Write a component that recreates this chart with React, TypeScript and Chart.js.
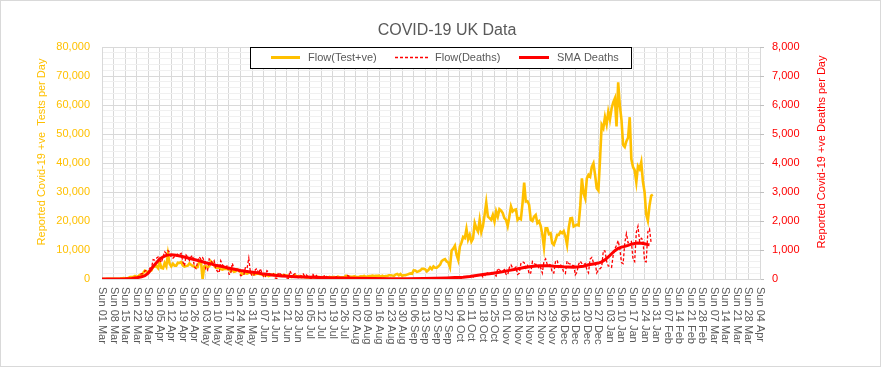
import React, { useEffect, useRef } from "react";
import { Chart, registerables } from "chart.js";

Chart.register(...registerables);

// Day 0 = Sun 01 Mar 2020; one value per day.
const testValues: number[] = [
  // Mar 2020
  13, 4, 11, 34, 29, 48, 45, 69, 43, 62, 77, 130, 208, 342, 251, 152, 407, 676, 643, 714, 1035, 665, 967, 1427, 1452, 2129, 2885, 2546, 2433, 2619, 3009,
  // Apr
  4324, 4244, 4450, 3735, 5903, 3802, 3634, 5491, 4344, 8681, 5233, 4342, 5252, 4603, 4617, 5599, 5525, 5850, 4676, 4301, 4451, 4583, 5386, 4913, 4463, 4309, 3996, 4076, 6032, 6201,
  // May
  0, 4339, 4406, 3985, 4406, 6111, 5614, 4649, 3896, 3923, 3877, 3403, 3242, 3446, 3560, 3450, 3534, 2684, 3142, 2472, 2615, 3287, 2959, 2409, 1625, 2004, 2013, 1887, 2095, 2445, 1936,
  // Jun
  1570, 1653, 1871, 1805, 1650, 1557, 1326, 1205, 1387, 1003, 1266, 1541, 1425, 1514, 1056, 1279, 1115, 1218, 1346, 1295, 1221, 958, 874, 653, 1118, 1380, 890, 901, 1006, 689,
  // Jul
  829, 576, 544, 624, 516, 650, 581, 630, 512, 642, 687, 538, 659, 530, 650, 398, 726, 560, 668, 642, 445, 769, 574, 560, 581, 685, 1148, 880, 846, 763, 744,
  // Aug
  938, 744, 670, 758, 950, 871, 1062, 758, 891, 1012, 1062, 1148, 1040, 1077, 1089, 1182, 713, 1104, 812, 1033, 1041, 1288, 1276, 1184, 1108, 1522, 1715, 1276, 1715, 1108, 1276,
  // Sep
  1295, 1508, 1735, 1940, 1813, 2988, 2948, 2460, 2659, 2919, 3539, 3497, 3330, 2621, 3105, 3991, 3395, 4322, 3899, 3899, 4368, 4926, 6178, 6634, 6874, 6042, 5693, 4044, 9800, 10500,
  // Oct
  11500, 8400, 6600, 11200, 12600, 14500, 14100, 17300, 13600, 15200, 12900, 14000, 19300, 17500, 16400, 20400, 16200, 18300, 22100, 26400, 21500, 21000, 20400, 22100, 19800, 23300, 21500, 24100, 23600, 22700, 21000,
  // Nov
  20400, 18300, 21500, 25000, 23300, 23800, 24000, 20400, 21000, 20600, 26100, 33200, 26700, 26800, 25600, 20400, 20000, 21500, 22100, 19300, 19900, 18300, 15400, 11000, 17500, 17500, 15500, 15800, 12400, 11800,
  // Dec
  13400, 15200, 15200, 16300, 15800, 16500, 14700, 11800, 17500, 20900, 21000, 18100, 18400, 18700, 18500, 25200, 34700, 29600, 27800, 34700, 35900, 35300, 38700, 39900, 35900, 31300, 30500, 41400, 53100, 52000, 55900,
  // Jan 2021
  53300, 57700, 55000, 58800, 60900, 62300, 52600, 67800, 59900, 54900, 46200, 45500, 47500, 48700, 55800, 41300, 38600, 37500, 33400, 38900, 37900, 40300, 33600, 30000, 22200, 20100, 25300, 28700, 29100,
];

const deathValues: number[] = [
  // Mar 2020
  0, 0, 0, 0, 1, 1, 0, 1, 1, 2, 2, 2, 1, 10, 14, 20, 16, 34, 43, 36, 56, 48, 74, 149, 186, 183, 284, 294, 214, 374, 382,
  // Apr
  670, 652, 714, 760, 644, 568, 758, 938, 881, 980, 917, 737, 717, 778, 761, 861, 847, 888, 596, 449, 828, 763, 638, 768, 813, 413, 360, 586, 765, 674,
  // May
  739, 621, 315, 288, 693, 649, 539, 627, 346, 268, 210, 627, 494, 428, 384, 468, 170, 160, 545, 363, 338, 351, 282, 118, 121, 134, 412, 377, 720, 215, 113,
  // Jun
  111, 324, 359, 176, 357, 204, 77, 55, 286, 245, 151, 202, 181, 36, 15, 233, 184, 135, 173, 128, 43, 15, 280, 154, 149, 186, 100, 36, 25, 155,
  // Jul
  176, 89, 137, 67, 22, 16, 155, 85, 126, 48, 68, 21, 11, 138, 85, 66, 63, 40, 11, 11, 79, 65, 53, 38, 47, 12, 4, 119, 83, 38, 40,
  // Aug
  7, 8, 5, 8, 4, 5, 4, 7, 14, 10, 5, 14, 3, 9, 16, 12, 7, 2, 3, 18, 6, 15, 9, 8, 5, 6, 8, 9, 1, 12, 2,
  // Sep
  2, 3, 2, 3, 8, 12, 2, 2, 8, 6, 9, 9, 5, 3, 20, 27, 20, 19, 18, 11, 37, 37, 21, 40, 40, 34, 17, 14, 13, 71,
  // Oct
  59, 66, 49, 33, 19, 76, 70, 77, 87, 81, 65, 50, 143, 137, 138, 136, 150, 67, 80, 241, 191, 189, 224, 174, 151, 102, 367, 310, 280, 274, 326,
  // Nov
  162, 136, 397, 492, 378, 355, 413, 156, 194, 532, 595, 563, 376, 462, 168, 213, 598, 529, 501, 511, 341, 398, 206, 608, 696, 498, 521, 479, 215, 205,
  // Dec
  603, 648, 414, 504, 397, 231, 189, 616, 533, 516, 424, 519, 144, 232, 506, 612, 532, 489, 534, 326, 215, 691, 744, 570, 570, 210, 316, 357, 414, 981, 964,
  // Jan 2021
  613, 445, 454, 407, 830, 1041, 1162, 1325, 1035, 563, 529, 1243, 1564, 1248, 1280, 1295, 671, 599, 1610, 1820, 1290, 1401, 1348, 610, 592, 1631, 1725, 1239,
];

const smaDays: number[] = [
  0, 14, 18, 21, 24, 26, 28, 31, 33, 35, 37, 39, 42, 45, 48, 51, 54, 57, 60, 63, 66, 69, 72, 75, 78, 81, 84, 87, 90, 94, 97, 100, 103, 106, 109, 113, 117, 122, 127, 132, 137, 145, 155, 165, 175, 185, 195, 202, 209, 214, 219, 223, 226, 229, 232, 235, 238, 241, 244, 247, 250, 253, 256, 259, 262, 265, 268, 271, 274, 277, 280, 283, 286, 289, 292, 295, 298, 301, 303, 305, 307, 309, 311, 313, 315, 317, 319, 321, 323, 325, 327, 329, 331, 332,
];
const smaValues: number[] = [
  0, 5, 20, 40, 80, 115, 200, 430, 560, 690, 760, 815, 840, 820, 785, 740, 700, 655, 610, 560, 520, 475, 440, 400, 360, 325, 292, 265, 245, 215, 183, 160, 138, 120, 103, 92, 80, 70, 57, 50, 46, 35, 25, 15, 12, 12, 15, 22, 35, 48, 60, 85, 110, 138, 160, 183, 205, 229, 262, 298, 330, 362, 395, 420, 440, 455, 460, 455, 440, 430, 420, 415, 405, 420, 440, 490, 520, 550, 590, 660, 760, 870, 975, 1060, 1100, 1125, 1160, 1200, 1225, 1240, 1235, 1215, 1185, 1180,
];

const weekLabels: string[] = [
  "Sun 01 Mar", "Sun 08 Mar", "Sun 15 Mar", "Sun 22 Mar", "Sun 29 Mar", "Sun 05 Apr", "Sun 12 Apr", "Sun 19 Apr", "Sun 26 Apr",
  "Sun 03 May", "Sun 10 May", "Sun 17 May", "Sun 24 May", "Sun 31 May", "Sun 07 Jun", "Sun 14 Jun", "Sun 21 Jun", "Sun 28 Jun",
  "Sun 05 Jul", "Sun 12 Jul", "Sun 19 Jul", "Sun 26 Jul", "Sun 02 Aug", "Sun 09 Aug", "Sun 16 Aug", "Sun 23 Aug", "Sun 30 Aug",
  "Sun 06 Sep", "Sun 13 Sep", "Sun 20 Sep", "Sun 27 Sep", "Sun 04 Oct", "Sun 11 Oct", "Sun 18 Oct", "Sun 25 Oct", "Sun 01 Nov",
  "Sun 08 Nov", "Sun 15 Nov", "Sun 22 Nov", "Sun 29 Nov", "Sun 06 Dec", "Sun 13 Dec", "Sun 20 Dec", "Sun 27 Dec", "Sun 03 Jan",
  "Sun 10 Jan", "Sun 17 Jan", "Sun 24 Jan", "Sun 31 Jan", "Sun 07 Feb", "Sun 14 Feb", "Sun 21 Feb", "Sun 28 Feb", "Sun 07 Mar",
  "Sun 14 Mar", "Sun 21 Mar", "Sun 28 Mar", "Sun 04 Apr",
];

const testAxisTicks: number[] = [0, 10000, 20000, 30000, 40000, 50000, 60000, 70000, 80000];
const testAxisLabels: string[] = ["0", "10,000", "20,000", "30,000", "40,000", "50,000", "60,000", "70,000", "80,000"];
const deathAxisTicks: number[] = [0, 1000, 2000, 3000, 4000, 5000, 6000, 7000, 8000];
const deathAxisLabels: string[] = ["0", "1,000", "2,000", "3,000", "4,000", "5,000", "6,000", "7,000", "8,000"];

const chartTitle = "COVID-19 UK Data";
const leftAxisTitle = "Reported Covid-19 +ve  Tests per Day";
const rightAxisTitle = "Reported Covid-19 +ve Deaths per Day";
const seriesNames = ["Flow(Test+ve)", "Flow(Deaths)", "SMA Deaths"];

const FONT = '"Liberation Sans", Arial, sans-serif';
const GOLD = "#FFC000";
const RED = "#FF0000";
const GREY_TEXT = "#595959";

const decorPlugin = {
  id: "excelDecor",
  afterDraw(chart: any) {
    const ctx = chart.ctx as CanvasRenderingContext2D;
    const xs = chart.scales.x;
    const area = chart.chartArea;
    ctx.save();

    // outer chart border
    ctx.strokeStyle = "#d9d9d9";
    ctx.lineWidth = 1;
    ctx.strokeRect(0.5, 0.5, 880, 366);

    // x tick labels, rotated clockwise
    ctx.font = "11px " + FONT;
    ctx.fillStyle = GREY_TEXT;
    ctx.textAlign = "left";
    ctx.textBaseline = "middle";
    weekLabels.forEach((lab, i) => {
      const x = xs.getPixelForValue(i * 7);
      ctx.save();
      ctx.translate(x, area.bottom + 8);
      ctx.rotate(Math.PI / 2);
      ctx.fillText(lab, 0, 0);
      ctx.restore();
    });

    // chart title
    ctx.font = "16px " + FONT;
    ctx.fillStyle = GREY_TEXT;
    ctx.textAlign = "center";
    ctx.textBaseline = "middle";
    ctx.fillText(chartTitle, 447, 31);

    // axis titles
    ctx.font = "11px " + FONT;
    ctx.save();
    ctx.translate(42, 152);
    ctx.rotate(-Math.PI / 2);
    ctx.fillStyle = GOLD;
    ctx.fillText(leftAxisTitle, 0, 0);
    ctx.restore();
    ctx.save();
    ctx.translate(822, 152);
    ctx.rotate(-Math.PI / 2);
    ctx.fillStyle = RED;
    ctx.fillText(rightAxisTitle, 0, 0);
    ctx.restore();

    // legend box
    ctx.fillStyle = "#ffffff";
    ctx.fillRect(250, 47, 381, 21);
    ctx.strokeStyle = "#000000";
    ctx.lineWidth = 1;
    ctx.strokeRect(250.5, 47.5, 381, 21);
    const ly = 57.5;
    const drawSample = (x0: number, x1: number, color: string, width: number, dash: number[]) => {
      ctx.beginPath();
      ctx.setLineDash(dash);
      ctx.strokeStyle = color;
      ctx.lineWidth = width;
      ctx.moveTo(x0, ly);
      ctx.lineTo(x1, ly);
      ctx.stroke();
      ctx.setLineDash([]);
    };
    drawSample(271, 300, GOLD, 3, []);
    drawSample(395, 428, RED, 1.5, [3, 2]);
    drawSample(519, 549, RED, 3, []);
    ctx.fillStyle = GREY_TEXT;
    ctx.textAlign = "left";
    ctx.textBaseline = "middle";
    ctx.font = "11px " + FONT;
    ctx.fillText(seriesNames[0], 308, ly);
    ctx.fillText(seriesNames[1], 435, ly);
    ctx.fillText(seriesNames[2], 557, ly);

    ctx.restore();
  },
};

export default function App() {
  const ref = useRef<HTMLCanvasElement | null>(null);

  useEffect(() => {
    if (!ref.current) return;
    const testData = testValues.map((v, i) => ({ x: i, y: v }));
    const deathData = deathValues.map((v, i) => ({ x: i, y: v }));
    const smaData = smaDays.map((d, i) => ({ x: d, y: smaValues[i] }));

    const chart = new Chart(ref.current, {
      type: "line",
      data: {
        datasets: [
          {
            label: seriesNames[2],
            data: smaData,
            yAxisID: "y1",
            borderColor: RED,
            borderWidth: 3,
            pointRadius: 0,
            tension: 0,
            order: 0,
          },
          {
            label: seriesNames[1],
            data: deathData,
            yAxisID: "y1",
            borderColor: RED,
            borderWidth: 1.3,
            borderDash: [3, 2],
            pointRadius: 0,
            tension: 0,
            order: 1,
          },
          {
            label: seriesNames[0],
            data: testData,
            yAxisID: "y",
            borderColor: GOLD,
            borderWidth: 2.6,
            pointRadius: 0,
            tension: 0,
            order: 2,
          },
        ],
      },
      options: {
        responsive: false,
        animation: false,
        devicePixelRatio: 1,
        parsing: false,
        layout: { padding: { top: 47, left: 0, right: 0, bottom: 0 } },
        plugins: {
          legend: { display: false },
          title: { display: false },
          tooltip: { enabled: false },
        },
        scales: {
          x: {
            type: "linear",
            position: "bottom",
            min: 0,
            max: (weekLabels.length - 1) * 7,
            afterBuildTicks: (s: any) => {
              s.ticks = weekLabels.map((_, i) => ({ value: i * 7 }));
            },
            afterFit: (s: any) => {
              s.height = 90;
            },
            ticks: { display: false },
            grid: { color: "#d9d9d9", lineWidth: 1, drawTicks: false },
            border: { color: "#d9d9d9" },
          },
          y: {
            type: "linear",
            position: "left",
            min: 0,
            max: 80000,
            afterBuildTicks: (s: any) => {
              const t: any[] = [];
              for (let v = 0; v <= 80000; v += 2000) t.push({ value: v });
              s.ticks = t;
            },
            afterFit: (s: any) => {
              s.width = 102;
            },
            ticks: {
              autoSkip: false,
              padding: 12,
              color: GOLD,
              font: { family: FONT, size: 11 },
              callback: (v: any) => {
                const i = testAxisTicks.indexOf(Number(v));
                return i >= 0 ? testAxisLabels[i] : "";
              },
            },
            grid: {
              drawTicks: false,
              color: (c: any) => (c.tick && c.tick.value % 10000 === 0 ? "#d9d9d9" : "#f0f0f0"),
            },
            border: { color: "#d9d9d9" },
          },
          y1: {
            type: "linear",
            position: "right",
            min: 0,
            max: 8000,
            afterBuildTicks: (s: any) => {
              s.ticks = deathAxisTicks.map((v) => ({ value: v }));
            },
            afterFit: (s: any) => {
              s.width = 123;
            },
            ticks: {
              autoSkip: false,
              padding: 8,
              color: RED,
              font: { family: FONT, size: 11 },
              callback: (v: any) => {
                const i = deathAxisTicks.indexOf(Number(v));
                return i >= 0 ? deathAxisLabels[i] : "";
              },
            },
            grid: { drawOnChartArea: false, drawTicks: true, tickLength: 4, color: "#bfbfbf" },
            border: { display: false },
          },
        },
      },
      plugins: [decorPlugin],
    } as any);

    return () => chart.destroy();
  }, []);

  return (
    <div style={{ position: "fixed", left: 0, top: 0, width: 883, height: 369, background: "#ffffff" }}>
      <canvas ref={ref} width={883} height={369} style={{ display: "block", width: 883, height: 369 }} />
    </div>
  );
}
